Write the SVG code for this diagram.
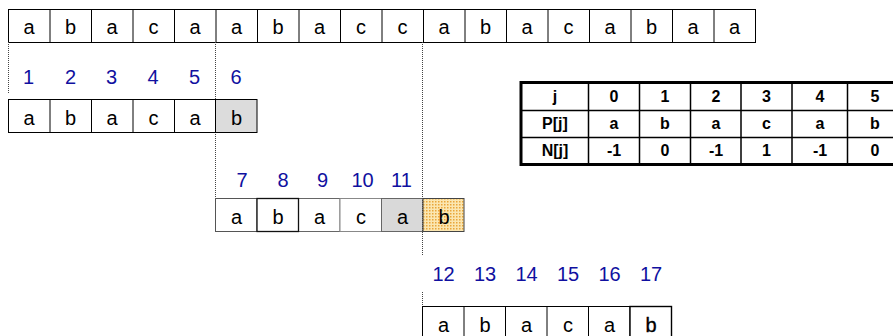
<svg xmlns="http://www.w3.org/2000/svg" width="893" height="336" viewBox="0 0 893 336">
<defs>
<pattern id="dots" width="3" height="3" patternUnits="userSpaceOnUse">
<rect width="3" height="3" fill="#fbe6b0"/>
<rect x="0" y="0" width="1.5" height="1.5" fill="#e9a63a"/>
</pattern>
<style>
.c{fill:#fff;stroke:#000;stroke-width:1}
.t{font-family:"Liberation Sans",Arial,sans-serif;font-size:20px;text-anchor:middle;fill:#000}
.n{font-family:"Liberation Sans",Arial,sans-serif;font-size:20px;text-anchor:middle;fill:#1010a0}
.tb{font-family:"Liberation Sans",Arial,sans-serif;font-size:16px;font-weight:bold;text-anchor:middle;fill:#000}
.d{stroke:#444;stroke-width:1;stroke-dasharray:1,1;fill:none}
</style>
</defs>
<rect width="893" height="336" fill="#fff"/>

<g id="text-row">
<rect class="c" x="8.5" y="9.5" width="747" height="33"/>
<path d="M50 9.5V42.5M91.5 9.5V42.5M133 9.5V42.5M174.5 9.5V42.5M216 9.5V42.5M257.5 9.5V42.5M299 9.5V42.5M340.5 9.5V42.5M382 9.5V42.5M423.5 9.5V42.5M465 9.5V42.5M506.5 9.5V42.5M548 9.5V42.5M589.5 9.5V42.5M631 9.5V42.5M672.5 9.5V42.5M714 9.5V42.5" stroke="#000" stroke-width="1"/>
<text class="t" x="29" y="34">a</text><text class="t" x="70.5" y="34">b</text><text class="t" x="112" y="34">a</text><text class="t" x="153.5" y="34">c</text><text class="t" x="195" y="34">a</text><text class="t" x="236.5" y="34">a</text><text class="t" x="278" y="34">b</text><text class="t" x="319.5" y="34">a</text><text class="t" x="361" y="34">c</text><text class="t" x="402.5" y="34">c</text><text class="t" x="444" y="34">a</text><text class="t" x="485.5" y="34">b</text><text class="t" x="527" y="34">a</text><text class="t" x="568.5" y="34">c</text><text class="t" x="610" y="34">a</text><text class="t" x="651.5" y="34">b</text><text class="t" x="693" y="34">a</text><text class="t" x="734.5" y="34">a</text>
</g>

<g id="connectors">
<path class="d" d="M8.5 42V93"/>
<path class="d" d="M215.5 42V198"/>
<path class="d" d="M422.5 42V255M422.5 292V306"/>
</g>

<g id="attempt-1">
<text class="n" x="28.5" y="84">1</text><text class="n" x="70.5" y="84">2</text><text class="n" x="111.5" y="84">3</text><text class="n" x="153" y="84">4</text><text class="n" x="194.5" y="84">5</text><text class="n" x="236" y="84">6</text>
<rect class="c" x="8.5" y="99.5" width="207" height="33"/>
<rect x="215.5" y="99.5" width="41.5" height="33" fill="#dcdcdc" stroke="#000"/>
<path d="M50 99.5V132.5M91.5 99.5V132.5M133 99.5V132.5M174.5 99.5V132.5" stroke="#000"/>
<text class="t" x="29" y="124.5">a</text><text class="t" x="70.5" y="124.5">b</text><text class="t" x="112" y="124.5">a</text><text class="t" x="153.5" y="124.5">c</text><text class="t" x="195" y="124.5">a</text><text class="t" x="236.5" y="124.5">b</text>
</g>

<g id="attempt-2">
<text class="n" x="242" y="187" font-size="21">7</text><text class="n" x="283" y="187" font-size="21">8</text><text class="n" x="322.5" y="187" font-size="21">9</text><text class="n" x="362.5" y="187" font-size="21">10</text><text class="n" x="401.5" y="187" font-size="21">11</text>
<rect x="215.5" y="198.5" width="41.5" height="33" fill="#fff" stroke="#555"/>
<rect x="298.5" y="198.5" width="41.5" height="33" fill="#fff" stroke="#666"/>
<rect x="340" y="198.5" width="41.5" height="33" fill="#fff" stroke="#888"/>
<rect x="381.5" y="198.5" width="41.5" height="33" fill="#d9d9d9" stroke="#666"/>
<rect x="257" y="198.5" width="41.5" height="33" fill="#fff" stroke="#111" stroke-width="1.3"/>
<rect x="423" y="198.5" width="41" height="33" fill="url(#dots)" stroke="#444"/>
<path class="d" d="M422.5 198V232"/>
<text class="t" x="236.5" y="224">a</text><text class="t" x="278" y="224">b</text><text class="t" x="319.5" y="224">a</text><text class="t" x="361" y="224">c</text><text class="t" x="402.5" y="224">a</text><text class="t" x="444" y="224">b</text>
</g>

<g id="attempt-3">
<text class="n" x="443.5" y="281">12</text><text class="n" x="485" y="281">13</text><text class="n" x="526.5" y="281">14</text><text class="n" x="568" y="281">15</text><text class="n" x="609.5" y="281">16</text><text class="n" x="651" y="281">17</text>
<rect class="c" x="422.5" y="306.5" width="207.5" height="40"/>
<path d="M464 306.5V340M505.5 306.5V340M547 306.5V340M588.5 306.5V340" stroke="#000"/>
<rect x="630" y="306.5" width="41.5" height="40" fill="#fff" stroke="#000" stroke-width="1.4"/>
<text class="t" x="443.5" y="332">a</text><text class="t" x="485" y="332">b</text><text class="t" x="526.5" y="332">a</text><text class="t" x="568" y="332">c</text><text class="t" x="609.5" y="332">a</text><text class="t" x="651" y="332" stroke="#000" stroke-width="0.35">b</text>
</g>

<g id="table">
<rect x="521" y="82.5" width="382" height="82" fill="#fff" stroke="#000" stroke-width="3"/>
<path d="M521 110.5H903M521 137.5H903" stroke="#000" stroke-width="1.5"/>
<path d="M588.5 82V164M639.5 82V164M690.5 82V164M741 82V164M792 82V164M847.5 82V164" stroke="#000" stroke-width="1.5"/>
<text class="tb" x="555" y="102">j</text><text class="tb" x="614" y="102">0</text><text class="tb" x="665" y="102">1</text><text class="tb" x="716" y="102">2</text><text class="tb" x="766.5" y="102">3</text><text class="tb" x="820" y="102">4</text><text class="tb" x="875" y="102">5</text>
<text class="tb" x="555" y="129">P[j]</text><text class="tb" x="614" y="129">a</text><text class="tb" x="665" y="129">b</text><text class="tb" x="716" y="129">a</text><text class="tb" x="766.5" y="129">c</text><text class="tb" x="820" y="129">a</text><text class="tb" x="875" y="129">b</text>
<text class="tb" x="555" y="156">N[j]</text><text class="tb" x="614" y="156">-1</text><text class="tb" x="665" y="156">0</text><text class="tb" x="716" y="156">-1</text><text class="tb" x="766.5" y="156">1</text><text class="tb" x="820" y="156">-1</text><text class="tb" x="875" y="156">0</text>
</g>
</svg>
